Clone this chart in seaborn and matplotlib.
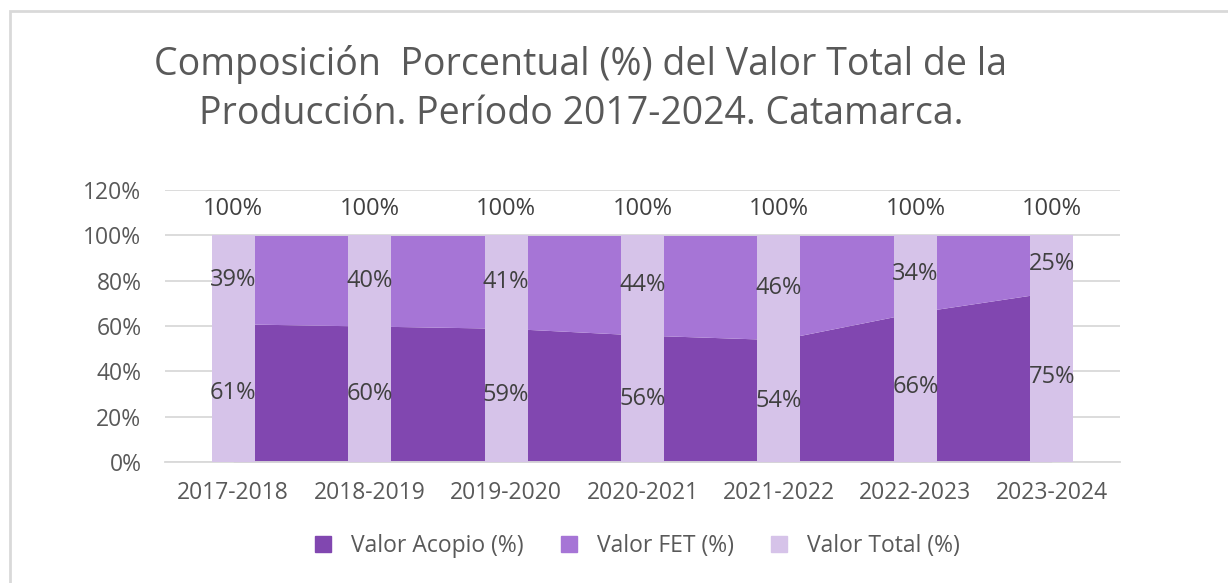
import matplotlib
matplotlib.use("Agg")
import matplotlib.pyplot as plt
import pandas as pd
import seaborn as sns
from matplotlib.lines import Line2D
from matplotlib.patches import Rectangle

# data
periodos = ["2017-2018", "2018-2019", "2019-2020", "2020-2021",
            "2021-2022", "2022-2023", "2023-2024"]
acopio = [61, 60, 59, 56, 54, 66, 75]
fet = [39, 40, 41, 44, 46, 34, 25]
total = [100, 100, 100, 100, 100, 100, 100]

c_acopio = "#8147B0"
c_fet = "#A675D6"
c_total = "#D6C3E9"
txt = "#595959"
lbl = "#404040"

sns.set_theme(style="white")
plt.rcParams['font.family'] = ['Open Sans', 'DejaVu Sans']

df = pd.DataFrame({"periodo": periodos, "acopio": acopio, "fet": fet, "total": total})

fig = plt.figure(figsize=(12.28, 5.83), dpi=100)
ax = fig.add_axes([0.1344, 0.2075, 0.912 - 0.1344, 0.674 - 0.2075])

# border of the chart area
fig.patches.append(Rectangle((10 / 1228, -0.01), 1.02, 1 - 11 / 583 + 0.01,
                             transform=fig.transFigure, fill=False,
                             edgecolor="#D9D9D9", linewidth=2))

# stacked areas (between category centres)
x = list(range(len(periodos)))
ax.stackplot(x, df["acopio"], df["fet"], colors=[c_acopio, c_fet],
             linewidth=0, zorder=2)

# total bars on top
sns.barplot(data=df, x="periodo", y="total", color=c_total, width=0.315,
            saturation=1, linewidth=0, ax=ax, zorder=3)

ax.set_xlim(-0.5, 6.5)
ax.set_ylim(0, 120)
ax.set_yticks(range(0, 121, 20))
ax.set_yticklabels([f"{v}%" for v in range(0, 121, 20)])
ax.grid(axis="y", color="#D9D9D9", linewidth=1.3, zorder=0)
ax.set_axisbelow(True)
for s in ["top", "right", "left"]:
    ax.spines[s].set_visible(False)
ax.spines["bottom"].set_color("#D9D9D9")
ax.spines["bottom"].set_linewidth(1.3)
ax.tick_params(axis="both", length=0, labelsize=16.5, labelcolor=txt)
ax.tick_params(axis="x", pad=14)
ax.tick_params(axis="y", pad=17)
ax.set_xlabel("")
ax.set_ylabel("")

# data labels
for i in x:
    ax.text(i, total[i] + 11.5, f"{total[i]}%", ha="center", va="center",
            fontsize=17, color=lbl, zorder=5)
    ax.text(i, acopio[i] / 2, f"{acopio[i]}%", ha="center", va="center",
            fontsize=17, color=lbl, zorder=5)
    ax.text(i, acopio[i] + fet[i] / 2, f"{fet[i]}%", ha="center", va="center",
            fontsize=17, color=lbl, zorder=5)

fig.text(0.473, 0.847, "Composición  Porcentual (%) del Valor Total de la\nProducción. Período 2017-2024. Catamarca.",
         ha="center", va="center", fontsize=27, color=txt, linespacing=1.38)

handles = [Line2D([], [], marker="s", linestyle="", markersize=11, color=c)
           for c in [c_acopio, c_fet, c_total]]
fig.legend(handles, ["Valor Acopio (%)", "Valor FET (%)", "Valor Total (%)"],
           loc="center", bbox_to_anchor=(0.513, 0.063), ncol=3, frameon=False,
           fontsize=16.5, labelcolor=txt, handletextpad=0.2, columnspacing=1.0)

fig.savefig("out.png", dpi=100)
